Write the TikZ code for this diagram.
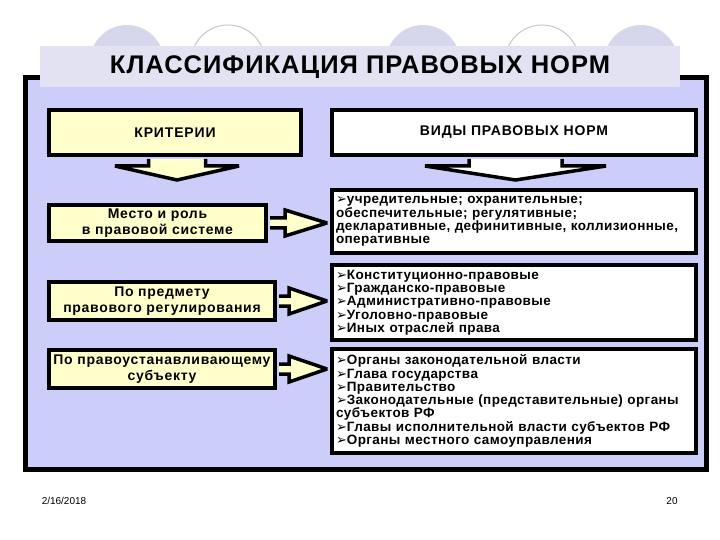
\documentclass[tikz,border=0pt]{standalone}
\usepackage{fontspec}
\setmainfont{Liberation Sans}
\newfontfamily\symfont{DejaVu Sans}
\usetikzlibrary{calc}
\definecolor{slidelav}{RGB}{205,205,250}
\definecolor{bannerlav}{RGB}{226,226,242}
\definecolor{circlav}{RGB}{214,214,236}
\definecolor{cream}{RGB}{255,255,204}
\newcommand{\bul}{{\symfont\mdseries\fontsize{13}{12}\selectfont ➢}}

\begin{document}
\begin{tikzpicture}[
  x=1pt, y=-1pt,
  hdr/.style={draw=black, line width=4pt, minimum height=45pt, inner sep=0pt,
    font=\bfseries\addfontfeatures{LetterSpace=6}\fontsize{14}{16}\selectfont},
  crit/.style={draw=black, line width=4pt, fill=cream, minimum height=38pt, inner sep=0pt, align=center,
    font=\bfseries\addfontfeatures{LetterSpace=5}\fontsize{14}{15.5}\selectfont},
  kind/.style={draw=black, line width=4pt, fill=white, minimum width=364pt, text width=356pt, inner xsep=4pt, align=left,
    font=\bfseries\addfontfeatures{LetterSpace=3}\fontsize{13.5}{13.3}\selectfont},
  barr/.style={draw=black, line width=3.5pt, line join=miter, miter limit=2, fill=cream}
]
\useasboundingbox (0,0) rectangle (720,540);

% circles behind the banner
\foreach \cx in {127,423,641}
  \fill[circlav] (\cx,62) circle (37);
\foreach \cx in {228,542}
  \draw[circlav!80!gray, line width=1pt, fill=white] (\cx,62) circle (37);

% slide frame and banner
\node[draw=black, line width=5pt, fill=slidelav, minimum width=681pt, minimum height=391pt] (frame) at (365.5,273.5) {};
\node[fill=bannerlav, minimum width=640pt, minimum height=41pt, inner sep=0pt,
  font=\bfseries\addfontfeatures{LetterSpace=4}\fontsize{25.5}{28}\selectfont] (title) at (360,67) {КЛАССИФИКАЦИЯ ПРАВОВЫХ НОРМ};

% column heads
\node[hdr, fill=cream, minimum width=252pt] (crith) at (175,132.5) {КРИТЕРИИ};
\node[hdr, fill=white, minimum width=364pt] (kindh) at (514,132.5) {ВИДЫ ПРАВОВЫХ НОРМ};

% down arrows under the heads
\draw[barr] ($(crith.south)+(-26.5,2)$) -- ($(crith.south)+(-26.5,9)$) -- ($(crith.south)+(-60,9)$)
  -- ($(crith.south)+(2,23)$) -- ($(crith.south)+(64,9)$) -- ($(crith.south)+(30.5,9)$) -- ($(crith.south)+(30.5,2)$);
\draw[barr, fill=white] ($(kindh.south)+(-45,2)$) -- ($(kindh.south)+(-45,9)$) -- ($(kindh.south)+(-89,9)$)
  -- ($(kindh.south)+(1.5,23)$) -- ($(kindh.south)+(92,9)$) -- ($(kindh.south)+(48,9)$) -- ($(kindh.south)+(48,2)$);

% criteria
\node[crit, minimum width=217pt, minimum height=36pt] (place) at (157.5,223) {Место и роль\\в правовой системе};
\node[crit, minimum width=226pt] (subject) at (162,301) {По предмету\\правового регулирования};
\node[crit, minimum width=226pt] (maker) at (162,369) {По правоустанавливающему\\субъекту};

% kinds of norms
\node[kind, minimum height=63pt] (kind1) at (514,221.5) {\bul учредительные; охранительные;\\
обеспечительные; регулятивные;\\
декларативные, дефинитивные, коллизионные,\\
оперативные};
\node[kind, minimum height=75pt] (kind2) at (514,302.5) {\bul Конституционно-правовые\\
\bul Гражданско-правовые\\
\bul Административно-правовые\\
\bul Уголовно-правовые\\
\bul Иных отраслей права};
\node[kind, minimum height=104pt] (kind3) at (514,401) {\bul Органы законодательной власти\\
\bul Глава государства\\
\bul Правительство\\
\bul Законодательные (представительные) органы\\
субъектов РФ\\
\bul Главы исполнительной власти субъектов РФ\\
\bul Органы местного самоуправления};

% arrows from criteria to kinds
\coordinate (tip1) at ($(place.east -| kind1.west)+(-3,0)$);
\coordinate (tip2) at ($(subject.east -| kind2.west)+(-3,0)$);
\coordinate (tip3) at ($(maker.east -| kind3.west)+(-3,0)$);
\draw[barr] ($(place.east)+(2,-5)$) -- ($(tip1)+(-42,-5)$) -- ($(tip1)+(-42,-13)$) -- (tip1)
  -- ($(tip1)+(-42,13)$) -- ($(tip1)+(-42,5)$) -- ($(place.east)+(2,5)$);
\draw[barr] ($(subject.east)+(2,-5)$) -- ($(tip2)+(-38,-5)$) -- ($(tip2)+(-38,-13)$) -- (tip2)
  -- ($(tip2)+(-38,13)$) -- ($(tip2)+(-38,5)$) -- ($(subject.east)+(2,5)$);
\draw[barr] ($(maker.east)+(2,-5)$) -- ($(tip3)+(-38,-5)$) -- ($(tip3)+(-38,-13)$) -- (tip3)
  -- ($(tip3)+(-38,13)$) -- ($(tip3)+(-38,5)$) -- ($(maker.east)+(2,5)$);

% footer
\node[font=\fontsize{10}{12}\selectfont] (date) at (64,501) {2/16/2018};
\node[font=\fontsize{10}{12}\selectfont] (page) at (672,501) {20};
\end{tikzpicture}
\end{document}
